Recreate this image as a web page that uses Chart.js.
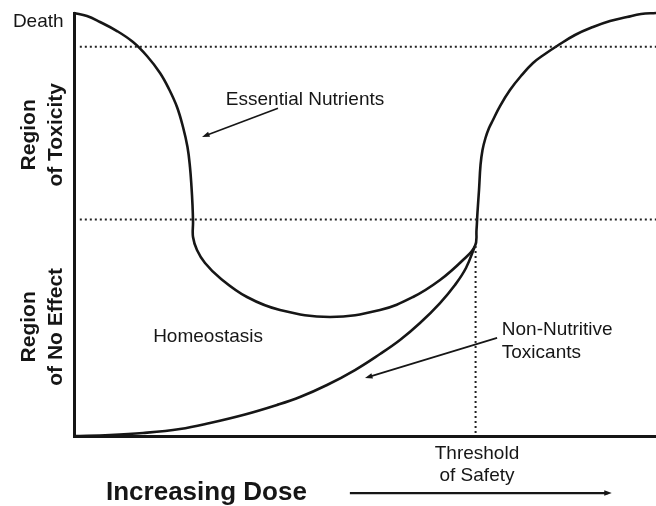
<!DOCTYPE html>
<html>
<head>
<meta charset="utf-8">
<script src="https://cdn.jsdelivr.net/npm/chart.js@4.4.1/dist/chart.umd.min.js"></script>
<style>
  html, body { margin: 0; padding: 0; background: #fff; }
  #wrap { width: 656px; height: 506px; position: relative; }
</style>
</head>
<body>
<div id="wrap"><canvas id="doseChart"></canvas></div>
<script>
// dose (0-100) vs effect (0 = no effect, 100 = death)
const essentialDose = [0, 2.23, 4.47, 7.39, 10.14, 12.54, 14.78, 16.32, 17.7, 18.73, 19.5, 19.93, 20.19, 20.36,
  20.45, 20.45, 21.13, 22.51, 25.09, 29.73, 35.4, 43.99, 52.58, 58.25, 62.89, 66.84, 68.9,
  69.16, 69.33, 69.59, 69.85, 70.19, 70.7, 71.31, 71.99, 73.2, 74.91, 76.8, 78.87, 80.93, 82.99, 86.08, 89.18,
  92.1, 95.02, 97.42, 100];
const essentialEffect = [100, 99.29, 97.87, 95.74, 93.14, 89.83, 85.82, 82.03, 77.78, 73.05, 68.32, 63.59, 58.87, 54.61,
  50.59, 47.04, 43.97, 40.9, 37.35, 32.86, 29.79, 28.13, 29.79, 32.86, 36.88, 41.61, 44.92,
  48.7, 52.96, 58.16, 64.07, 67.61, 70.45, 72.81, 74.7, 78.01, 81.8, 85.11, 88.18, 90.31, 92.2, 94.8, 96.69,
  98.11, 99.05, 99.76, 100];

const toxicantDose = [0, 6.19, 11.86, 18.21, 23.37, 29.38, 34.88, 38.83, 43.47, 48.28, 52.58, 56.01, 59.45,
  62.89, 65.46, 67.35, 68.9];
const toxicantEffect = [0, 0.24, 0.71, 1.65, 3.07, 5.08, 7.33, 9.22, 12.06, 15.6, 19.39, 22.7, 26.71,
  31.44, 35.7, 39.72, 44.92];

const toxicityLevel = 92.0;     // upper dotted line
const noEffectLevel = 51.2;     // lower dotted line
const safetyThreshold = 69.0;   // threshold of safety dose
const safetyEffect = 44.9;

const toPoints = (xs, ys) => xs.map((x, i) => ({ x: x, y: ys[i] }));

const ink = "#161616";

// texts drawn at data coordinates
const labels = [
  { text: "Death", x: -10.5, y: 97.9, font: "19px", align: "left" },
  { text: "Essential Nutrients", x: 39.7, y: 79.4, font: "19px", align: "center" },
  { text: "Homeostasis", x: 13.6, y: 23.4, font: "19px", align: "left" },
  { text: "Non-Nutritive", x: 73.5, y: 25.1, font: "19px", align: "left" },
  { text: "Toxicants", x: 73.5, y: 19.6, font: "19px", align: "left" },
  { text: "Threshold", x: 69.24, y: -4.1, font: "19px", align: "center" },
  { text: "of Safety", x: 69.24, y: -9.5, font: "19px", align: "center" },
  { text: "Increasing Dose", x: 5.5, y: -13.5, font: "bold 26px", align: "left" },
];
const sideLabels = [
  { lines: ["Region", "of Toxicity"], x: [-6.7, -2.06], y: 71.2 },
  { lines: ["Region", "of No Effect"], x: [-6.7, -2.06], y: 25.8 },
];
const arrows = [
  { from: [35.05, 77.5], to: [22.0, 70.7], width: 1.6 },
  { from: [72.7, 23.2], to: [50.0, 13.7], width: 1.6 },
  { from: [47.4, -13.5], to: [92.4, -13.5], width: 2.2 },
];

const annotate = {
  id: "annotate",
  afterDatasetsDraw(chart) {
    const ctx = chart.ctx;
    const sx = chart.scales.x, sy = chart.scales.y;
    const px = (v) => sx.getPixelForValue(v);
    const py = (v) => sy.getPixelForValue(v);
    const family = '"Liberation Sans", Arial, Helvetica, sans-serif';
    ctx.save();
    ctx.fillStyle = ink;
    ctx.textBaseline = "middle";
    labels.forEach((l) => {
      ctx.font = l.font + " " + family;
      ctx.textAlign = l.align;
      ctx.fillText(l.text, px(l.x), py(l.y));
    });
    // rotated region labels
    ctx.font = "bold 21px " + family;
    ctx.textAlign = "center";
    ctx.textBaseline = "alphabetic";
    sideLabels.forEach((s) => {
      s.lines.forEach((line, i) => {
        ctx.save();
        ctx.translate(px(s.x[i]), py(s.y));
        ctx.rotate(-Math.PI / 2);
        ctx.fillText(line, 0, 0);
        ctx.restore();
      });
    });
    // arrows
    ctx.strokeStyle = ink;
    arrows.forEach((a) => {
      const x1 = px(a.from[0]), y1 = py(a.from[1]);
      const x2 = px(a.to[0]), y2 = py(a.to[1]);
      const ang = Math.atan2(y2 - y1, x2 - x1);
      ctx.lineWidth = a.width;
      ctx.beginPath();
      ctx.moveTo(x1, y1);
      ctx.lineTo(x2 - 4 * Math.cos(ang), y2 - 4 * Math.sin(ang));
      ctx.stroke();
      ctx.beginPath();
      ctx.moveTo(x2, y2);
      ctx.lineTo(x2 - 8 * Math.cos(ang - 0.35), y2 - 8 * Math.sin(ang - 0.35));
      ctx.lineTo(x2 - 8 * Math.cos(ang + 0.35), y2 - 8 * Math.sin(ang + 0.35));
      ctx.closePath();
      ctx.fill();
    });
    ctx.restore();
  },
};

const dotted = { borderColor: "#222", borderWidth: 2, borderDash: [2, 3], pointRadius: 0, tension: 0, showLine: true, fill: false };

new Chart(document.getElementById("doseChart"), {
  type: "scatter",
  data: {
    datasets: [
      Object.assign({ data: [{ x: 1, y: toxicityLevel }, { x: 100, y: toxicityLevel }] }, dotted),
      Object.assign({ data: [{ x: 1, y: noEffectLevel }, { x: 100, y: noEffectLevel }] }, dotted),
      Object.assign({ data: [{ x: safetyThreshold, y: safetyEffect }, { x: safetyThreshold, y: 0 }] }, dotted),
      {
        label: "Essential Nutrients",
        data: toPoints(essentialDose, essentialEffect),
        showLine: true,
        borderColor: ink,
        borderWidth: 2.6,
        pointRadius: 0,
        tension: 0.4,
        clip: false,
      },
      {
        label: "Non-Nutritive Toxicants",
        data: toPoints(toxicantDose, toxicantEffect),
        showLine: true,
        borderColor: ink,
        borderWidth: 2.6,
        pointRadius: 0,
        tension: 0.4,
        clip: false,
      },
    ],
  },
  options: {
    responsive: true,
    maintainAspectRatio: false,
    animation: false,
    layout: { padding: { left: 74, top: 13, right: 0, bottom: 70 } },
    plugins: { legend: { display: false }, tooltip: { enabled: false } },
    scales: {
      x: {
        type: "linear",
        min: 0,
        max: 100,
        ticks: { display: false },
        grid: { display: false, drawTicks: false },
        border: { display: true, color: ink, width: 3 },
      },
      y: {
        type: "linear",
        min: 0,
        max: 100,
        ticks: { display: false },
        grid: { display: false, drawTicks: false },
        border: { display: true, color: ink, width: 3 },
      },
    },
  },
  plugins: [annotate],
});
</script>
</body>
</html>
